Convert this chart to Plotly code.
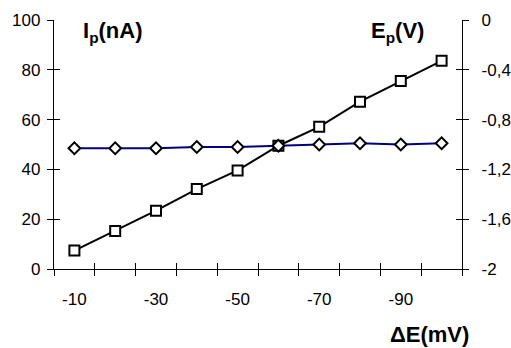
import plotly.graph_objects as go

categories = ["-10", "-20", "-30", "-40", "-50", "-60", "-70", "-80", "-90", "-100"]
ip_values = [7.4, 15.3, 23.4, 32.1, 39.6, 49.5, 57.1, 67.2, 75.5, 83.6]
ep_values = [-1.03, -1.03, -1.03, -1.02, -1.02, -1.01, -1.00, -0.99, -1.00, -0.99]
left_ticks = [0, 20, 40, 60, 80, 100]
right_ticks = [0, -0.4, -0.8, -1.2, -1.6, -2]
right_tick_text = ["0", "-0,4", "-0,8", "-1,2", "-1,6", "-2"]

xpos = list(range(1, len(categories) + 1))
label_pos = xpos[::2]
label_text = categories[::2]
boundaries = [i + 0.5 for i in range(0, len(categories) + 1)]

FONT = "Liberation Sans, Arial, sans-serif"

fig = go.Figure()
fig.add_trace(go.Scatter(
    x=xpos, y=ep_values, yaxis="y2", mode="lines+markers",
    line=dict(color="#000080", width=2),
    marker=dict(symbol="diamond", size=9, color="white", line=dict(color="black", width=2)),
    showlegend=False))
fig.add_trace(go.Scatter(
    x=xpos, y=ip_values, yaxis="y", mode="lines+markers",
    line=dict(color="black", width=2),
    marker=dict(symbol="square", size=10, color="white", line=dict(color="black", width=2)),
    showlegend=False))

xr = [0.5, len(categories) + 0.5]
common = dict(showgrid=False, zeroline=False, linecolor="black", linewidth=1.3, automargin=False,
              tickcolor="black", tickwidth=1.3, tickfont=dict(family=FONT, size=17, color="black"))
tickonly = dict(showticklabels=False, showline=False, showgrid=False, zeroline=False, automargin=False,
                tickcolor="black", tickwidth=1.3, ticklen=6, tickmode="array")

fig.update_layout(
    width=511, height=348,
    margin=dict(l=54, r=49, t=20, b=79, autoexpand=False),
    paper_bgcolor="white", plot_bgcolor="white",
    font=dict(family=FONT, color="black"),
    xaxis=dict(range=xr, tickmode="array", tickvals=label_pos, ticktext=label_text,
               ticks="", showline=True, ticklabelstandoff=14, **common),
    xaxis2=dict(range=xr, overlaying="x", anchor="y", side="bottom",
                tickvals=boundaries, ticks="outside", **tickonly),
    xaxis3=dict(range=xr, overlaying="x", anchor="y", side="bottom",
                tickvals=boundaries, ticks="inside", **tickonly),
    yaxis=dict(range=[0, 100], tickmode="array", tickvals=left_ticks, ticks="outside",
               ticklen=6, showline=True, ticklabelstandoff=3, **common),
    yaxis3=dict(range=[0, 100], overlaying="y", anchor="x", side="left",
                tickvals=left_ticks, ticks="inside", **tickonly),
    yaxis2=dict(range=[-2, 0], overlaying="y", anchor="x", side="right", tickmode="array",
                tickvals=right_ticks, ticktext=right_tick_text, ticks="outside", ticklen=6,
                showline=True, ticklabelstandoff=9, **common),
    yaxis4=dict(range=[-2, 0], overlaying="y", anchor="x", side="right",
                tickvals=right_ticks, ticks="inside", **tickonly),
)

# invisible traces to activate the tick-only overlay axes
for xa, ya in [("x2", "y"), ("x3", "y"), ("x", "y3"), ("x", "y4")]:
    fig.add_trace(go.Scatter(x=[None], y=[None], xaxis=xa, yaxis=ya, showlegend=False, hoverinfo="skip"))

lab_font = dict(family=FONT, size=22, color="black")
fig.add_annotation(text="<b>I<sub>p</sub>(nA)</b>", xref="paper", yref="paper", x=0.066, y=0.952,
                   xanchor="left", yanchor="middle", showarrow=False, font=lab_font)
fig.add_annotation(text="<b>E<sub>p</sub>(V)</b>", xref="paper", yref="paper", x=0.912, y=0.952,
                   xanchor="right", yanchor="middle", showarrow=False, font=lab_font)
fig.add_annotation(text="<b>ΔE(mV)</b>", xref="paper", yref="paper", x=1.022, y=-0.265,
                   xanchor="right", yanchor="middle", showarrow=False, font=lab_font)

fig.write_html("out.html")
